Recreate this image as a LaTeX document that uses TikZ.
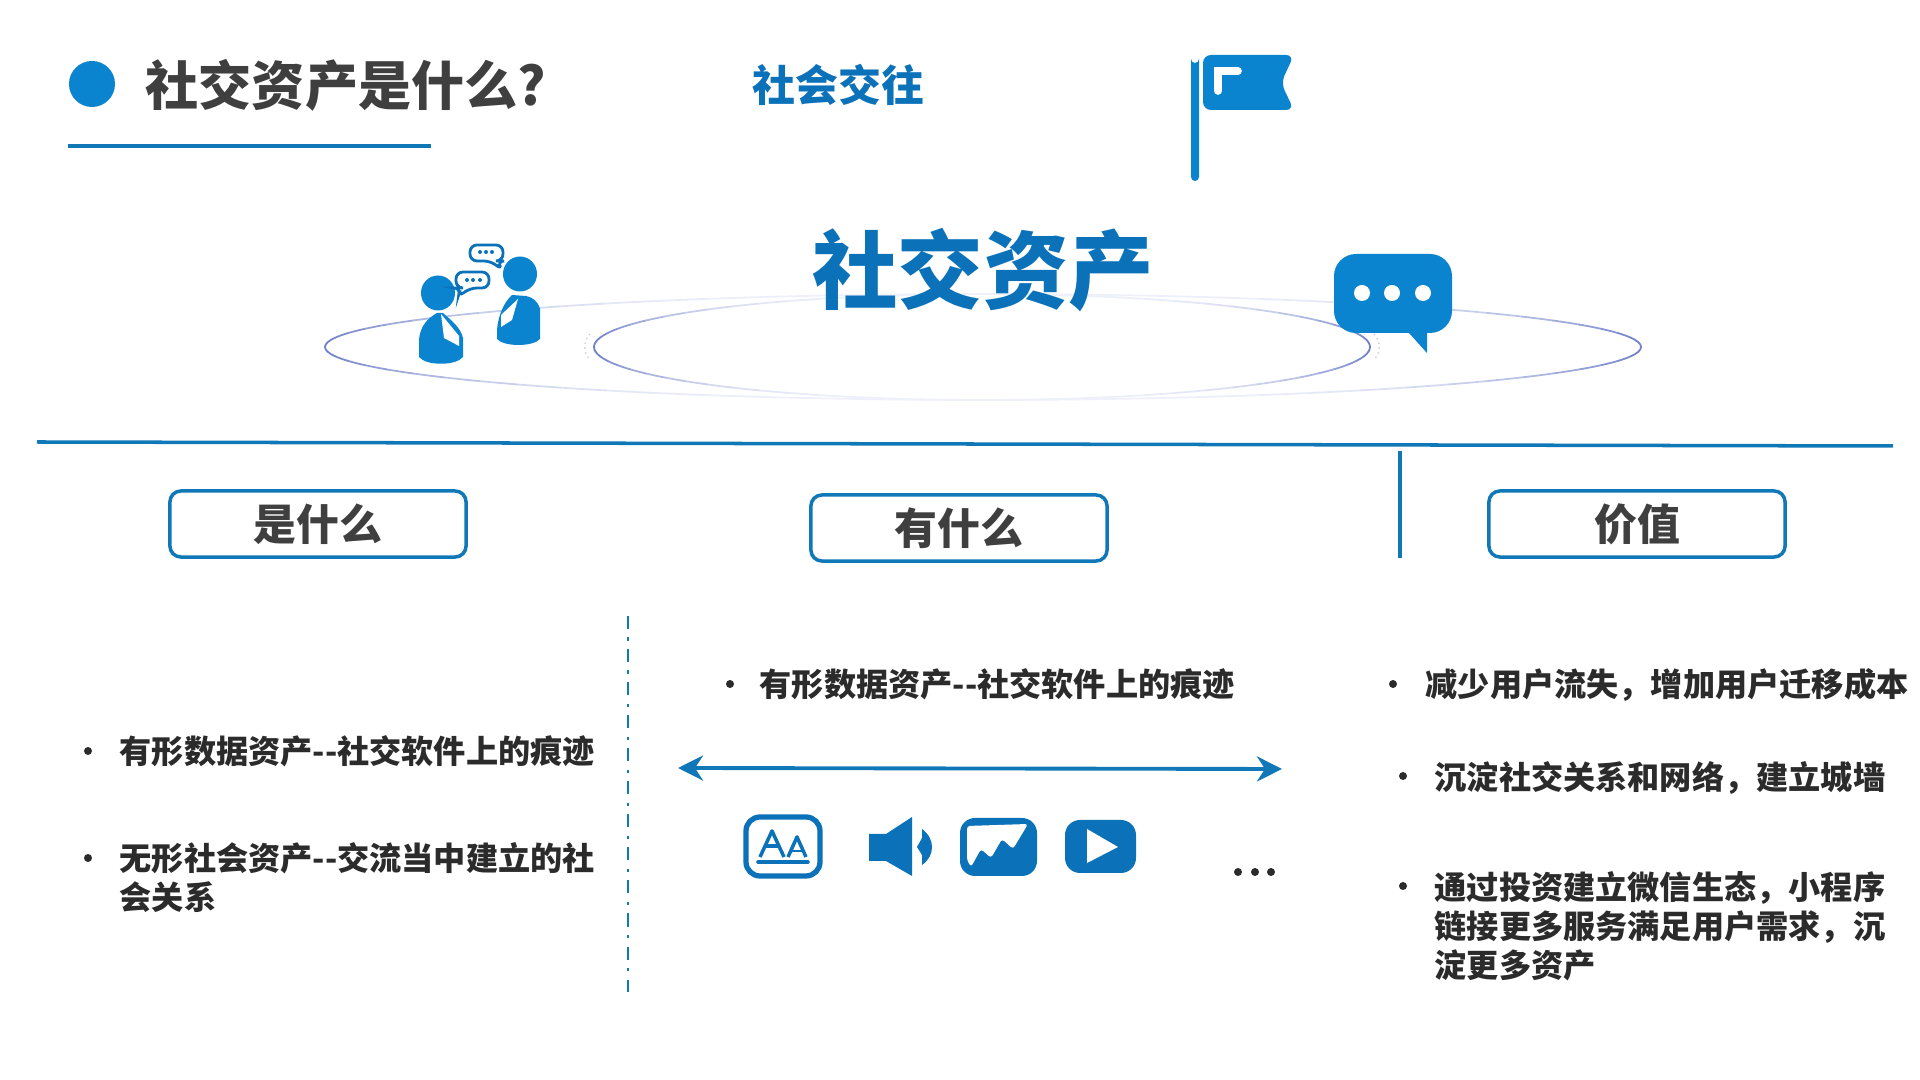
\documentclass[tikz,border=0pt]{standalone}
\usepackage{fontspec}
\usepackage{tikz}
\usetikzlibrary{arrows.meta}
\usetikzlibrary{positioning}
\setmainfont{Noto Sans CJK SC}[BoldFont={Noto Sans CJK SC Black}]
\definecolor{linkblue}{HTML}{1178B8}
\definecolor{iconblue}{HTML}{0B84CF}
\definecolor{deepblue}{HTML}{0B72BA}
\definecolor{darktext}{HTML}{3F3F3F}
\definecolor{bodyink}{HTML}{2B2B2B}
\definecolor{tipblue}{HTML}{6F7FC8}
\definecolor{paleblue}{HTML}{EEF1FA}
\newcommand{\wcomma}{\symbol{"FF0C}}
\tikzset{
  headbox/.style = {draw = linkblue, line width = 1pt, rounded corners = 1.1mm, minimum width = 2.96cm, minimum height = 0.66cm, inner sep = 0, text = darktext, font = \fontsize{12.2}{14}\selectfont\bfseries},
  bodytext/.style = {anchor = west, align = left, inner sep = 0, text = bodyink, font = \fontsize{9.15}{11}\selectfont\bfseries},
  dotmark/.style = {fill = bodyink, circle, inner sep = 0, minimum size = 0.08cm},
  iconfill/.style = {fill = iconblue, draw = none},
  deepfill/.style = {fill = deepblue, draw = none},
  rule/.style = {draw = linkblue, line width = 1pt}
}
\begin{document}
\begin{tikzpicture}[x = 0.01cm, y = -0.01cm]
  \useasboundingbox (0, 0) rectangle (1920, 1080);

  \node [circle, fill = iconblue, inner sep = 0, minimum size = 0.46cm] (titledot) at (92, 84) {};
  \node [anchor = west, inner sep = 0, text = darktext, font = \fontsize{15.1}{17}\selectfont\bfseries] (title) at (145, 85) {社交资产是什么?};
  \coordinate (titlel) at (68, 146);
  \coordinate (titler) at (431, 146);
  \draw [rule] (titlel) -- (titler);
  \node [anchor = west, inner sep = 0, text = deepblue, font = \fontsize{12.2}{14}\selectfont\bfseries] (social) at (752, 85) {社会交往};

  \draw [iconfill] (1191, 59) arc [start angle = 180, end angle = 0, radius = 4] -- (1199, 177) arc [start angle = 0, end angle = 180, radius = 4] -- cycle;
  \draw [iconfill, rounded corners = 0.8mm] (1203, 55) -- (1294, 55) -- (1281, 83) -- (1294, 110) -- (1203, 110) -- cycle;
  \draw [white, line width = 2.2pt, line cap = round] (1218, 91) -- (1218, 71) -- (1238, 71);

  \foreach \a in {0, 5, ..., 355} {
    \pgfmathsetmacro{\mixval}{100*abs(cos(\a+2.5))^4}
    \draw [color = tipblue!\mixval!paleblue, line width = 0.5pt, line cap = round] ({983 + 658*cos(\a)}, {347 + 53*sin(\a)}) arc [start angle = \a, delta angle = 5, x radius = 658, y radius = 53];
    \draw [color = tipblue!\mixval!paleblue, line width = 0.5pt, line cap = round] ({982 + 388*cos(\a)}, {347 + 53*sin(\a)}) arc [start angle = \a, delta angle = 5, x radius = 388, y radius = 53];
  }
  \draw [paleblue!70!tipblue, line width = 0.4pt, densely dotted] (590, 334) .. controls (583, 342) and (583, 352) .. (590, 360);
  \draw [paleblue!70!tipblue, line width = 0.4pt, densely dotted] (1374, 334) .. controls (1381, 342) and (1381, 352) .. (1374, 360);

  \node [inner sep = 0, text = deepblue, font = \fontsize{24.3}{28}\selectfont\bfseries] (bigtitle) at (983, 270) {社交资产};

  \fill [iconblue] (438, 293) ellipse [x radius = 17, y radius = 17.5];
  \draw [iconfill] (437, 313) .. controls (428, 318) and (420, 326) .. (419, 340) -- (419, 357) .. controls (426, 366) and (456, 366) .. (463, 357) -- (463, 338) .. controls (461, 328) and (451, 320) .. (443, 313) -- cycle;
  \draw [fill = white, draw = none] (441, 314) -- (459, 336) -- (459, 346) -- (444, 338) -- cycle;
  \fill [iconblue] (520, 274) ellipse [x radius = 17, y radius = 17.5];
  \draw [iconfill] (512, 295) .. controls (504, 302) and (498, 316) .. (497, 330) -- (497, 339) .. controls (504, 347) and (533, 347) .. (540, 339) -- (540, 309) .. controls (538, 301) and (532, 297) .. (526, 296) -- cycle;
  \draw [fill = white, draw = none] (518, 299) -- (512, 320) -- (501, 327) -- (501, 315) -- cycle;

  \draw [draw = deepblue, fill = white, line width = 0.8pt, rounded corners = 0.7mm] (470, 245) -- (503, 245) -- (503, 261) -- (497, 261) -- (502, 270) -- (491, 261) -- (470, 261) -- cycle;
  \draw [draw = deepblue, fill = white, line width = 0.8pt, rounded corners = 0.7mm] (456, 272) -- (489, 272) -- (489, 288) -- (470, 288) -- (458, 297) -- (461, 288) -- (456, 288) -- cycle;
  \foreach \x in {480, 486, 492} { \fill [deepblue] (\x, 252) circle [radius = 2]; }
  \foreach \x in {467, 473, 480} { \fill [deepblue] (\x, 280) circle [radius = 2]; }

  \draw [iconfill] (1334, 254) [rounded corners = 2.2mm] -- (1452, 254) -- (1452, 333) [sharp corners] -- (1427, 333) -- (1427, 353) -- (1409, 333) [rounded corners = 2.2mm] -- (1334, 333) -- cycle;
  \foreach \x in {1362, 1392, 1423} { \fill [white] (\x, 293) circle [radius = 8]; }

  \coordinate (topl) at (37, 442);
  \coordinate (topr) at (1893, 446);
  \draw [rule] (topl) -- (topr);
  \coordinate (divt) at (1400, 451);
  \coordinate (divb) at (1400, 558);
  \draw [rule] (divt) -- (divb);
  \coordinate (dasht) at (628, 616);
  \coordinate (dashb) at (628, 992);
  \draw [draw = linkblue, line width = 0.85pt, dash pattern = on 3.7pt off 2.4pt on 0.9pt off 2.4pt] (dasht) -- (dashb);

  \node [headbox] (what) at (318, 524) {是什么};
  \node [headbox] (has) at (959, 528) {有什么};
  \node [headbox] (worth) at (1637, 524) {价值};

  \node [dotmark] at (88, 751) {};
  \node [bodytext] (whata) at (119, 751) {有形数据资产{-}{-}社交软件上的痕迹};
  \node [dotmark] at (88, 858) {};
  \node [bodytext, anchor = north west] (whatb) at (119, 842) {无形社会资产{-}{-}交流当中建立的社\\会关系};

  \node [dotmark] at (730, 684) {};
  \node [bodytext] (hasa) at (759, 684) {有形数据资产{-}{-}社交软件上的痕迹};
  \coordinate (arrowl) at (678, 768);
  \coordinate (arrowr) at (1282, 769);
  \draw [draw = linkblue, line width = 1.1pt, {Stealth[length = 0.25cm, width = 0.25cm, inset = 0.08cm]}-{Stealth[length = 0.25cm, width = 0.25cm, inset = 0.08cm]}] (arrowl) -- (arrowr);

  \draw [draw = deepblue, fill = white, line width = 1.5pt, rounded corners = 1.4mm] (746, 817) rectangle (820, 876);
  \draw [draw = deepblue, line width = 1pt, line join = round] (760, 857) -- (772, 831) -- (784, 857);
  \draw [draw = deepblue, line width = 0.9pt] (765, 846) -- (779, 846);
  \draw [draw = deepblue, line width = 1pt, line join = round] (788, 857) -- (797, 837) -- (806, 857);
  \draw [draw = deepblue, line width = 0.8pt] (791, 851) -- (803, 851);
  \draw [draw = deepblue, line width = 1pt, line cap = round] (758, 862) -- (808, 862);

  \draw [deepfill] (869, 834) -- (886, 834) -- (912, 817) -- (912, 876) -- (886, 861) -- (869, 861) -- cycle;
  \draw [deepfill] (922, 829) .. controls (929, 834) and (932, 841) .. (932, 847) .. controls (932, 854) and (929, 860) .. (922, 865) -- (922, 855) -- (917, 847) -- (922, 838) -- cycle;

  \draw [deepfill, rounded corners = 1.5mm] (960, 818) rectangle (1037, 876);
  \fill [white, rounded corners = 0.3mm] (967, 826) -- (1028, 824) -- (1013, 849) -- (1002, 839) -- (991, 858) -- (981, 849) -- (971, 867) -- (967, 860) -- cycle;

  \draw [deepfill, rounded corners = 1.5mm] (1065, 820) rectangle (1136, 873);
  \fill [white] (1087, 829) -- (1118, 847) -- (1087, 863) -- cycle;

  \node [dotmark] (morea) at (1238, 872) {};
  \node [dotmark] (moreb) at (1255, 872) {};
  \node [dotmark] (morec) at (1271, 872) {};

  \node [dotmark] at (1393, 684) {};
  \node [bodytext] (wortha) at (1425, 685) {减少用户流失\wcomma 增加用户迁移成本};
  \node [dotmark] at (1403, 776) {};
  \node [bodytext] (worthb) at (1434, 778) {沉淀社交关系和网络\wcomma 建立城墙};
  \node [dotmark] at (1403, 886) {};
  \node [bodytext, anchor = north west] (worthc) at (1434, 871) {通过投资建立微信生态\wcomma 小程序\\链接更多服务满足用户需求\wcomma 沉\\淀更多资产};
\end{tikzpicture}
\end{document}
